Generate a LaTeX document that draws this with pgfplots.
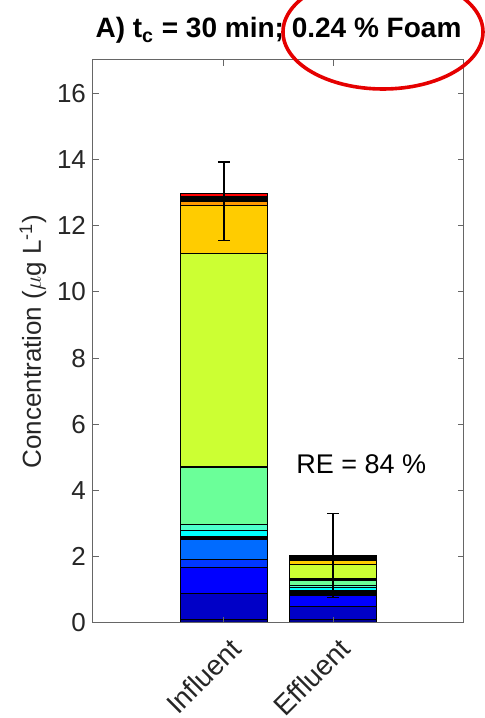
\documentclass[border=0pt]{standalone}
\usepackage{pgfplots}
\pgfplotsset{compat=1.18}
\usepackage{fontspec}
\setmainfont{Liberation Sans}
\definecolor{axgray}{rgb}{0.15,0.15,0.15}
\definecolor{c1}{rgb}{0,0,0.56}
\definecolor{c2}{rgb}{0,0,0.78}
\definecolor{c3}{rgb}{0,0,1}
\definecolor{c4}{rgb}{0,0.22,1}
\definecolor{c5}{rgb}{0,0.42,1}
\definecolor{c7}{rgb}{0,1,1}
\definecolor{c8}{rgb}{0.3,1,0.8}
\definecolor{c9}{rgb}{0.42,1,0.6}
\definecolor{c11}{rgb}{0.8,1,0.2}
\definecolor{c12}{rgb}{1,0.8,0}
\definecolor{c13}{rgb}{1,0.6,0}
\definecolor{c15}{rgb}{1,0,0}
\begin{document}
\begin{tikzpicture}
\pgfplotsset{
  common/.style={
    width=185.5pt, height=281.5pt, scale only axis,
    xmin=-0.2, xmax=3.2, ymin=0, ymax=17,
  }
}
\begin{axis}[common, name=main,
  ybar stacked, bar width=0.8,
  axis on top,
  axis line style={draw=black!60, line width=0.5pt},
  tick style={draw=black!60, line width=0.5pt},
  tick align=inside, major tick length=2.8pt,
  xtick={1,2}, xticklabels={Influent,Effluent},
  ytick={0,2,...,16},
  /pgf/number format/assume math mode=true,
  tick label style={font=\fontsize{13}{15}\selectfont, text=axgray},
  xticklabel style={xshift=2.5pt, yshift=-6.5pt, rotate=45, anchor=north east, inner sep=0pt, font=\fontsize{14}{16}\selectfont},
  ylabel={Concentration ($\mu$g L\textsuperscript{-1})},
  ylabel style={at={(axis description cs:-0.162,0.5)}, anchor=center, font=\fontsize{13}{15}\selectfont, text=axgray},
  title={A) t\textsubscript{c} = 30 min; 0.24 \% Foam},
  title style={at={(axis description cs:0.5,1)}, anchor=base, yshift=5pt, font=\bfseries\fontsize{14}{16}\selectfont},
  every axis plot/.append style={draw=black, line width=0.5pt},
]
\addplot[fill=c1]  coordinates {(1,0.12) (2,0.12)};
\addplot[fill=c2]  coordinates {(1,0.78) (2,0.37)};
\addplot[fill=c3]  coordinates {(1,0.79) (2,0.33)};
\addplot[fill=c4]  coordinates {(1,0.24) (2,0)};
\addplot[fill=c5]  coordinates {(1,0.58) (2,0)};
\addplot[fill=black] coordinates {(1,0.09) (2,0.15)};
\addplot[fill=c7]  coordinates {(1,0.20) (2,0.09)};
\addplot[fill=c8]  coordinates {(1,0.16) (2,0.06)};
\addplot[fill=c9]  coordinates {(1,1.74) (2,0.17)};
\addplot[fill=black] coordinates {(1,0.02) (2,0.05)};
\addplot[fill=c11] coordinates {(1,6.45) (2,0.43)};
\addplot[fill=c12] coordinates {(1,1.45) (2,0.13)};
\addplot[fill=c13] coordinates {(1,0.12) (2,0)};
\addplot[fill=black] coordinates {(1,0.13) (2,0.15)};
\addplot[fill=c15] coordinates {(1,0.10) (2,0)};
\node[anchor=base west, font=\fontsize{13.5}{16}\selectfont, text=black, inner sep=0pt] at (axis cs:1.66,4.51) {RE = 84 \%};
\coordinate (NW) at (rel axis cs:0,1);
\end{axis}
\begin{axis}[common, at={(main.origin)}, anchor=origin, hide axis]
\addplot[draw=none, mark=none, line width=0.5pt,
  error bars/.cd, y dir=both, y explicit,
  error bar style={line width=0.6pt, black},
  error mark options={rotate=90, mark size=3pt, line width=0.6pt, black}]
  coordinates {(1,12.735) +- (0,1.185) (2,2.035) +- (0,1.275)};
\end{axis}
\begin{scope}[shift={(NW)}, xshift=-46.5pt, yshift=30pt, x=0.5pt, y=-0.5pt]
\draw[red!90!black, line width=1.8pt] (383,32) ellipse [x radius=100, y radius=57];
\pgfresetboundingbox
\useasboundingbox (0,0) rectangle (484,718);
\end{scope}
\end{tikzpicture}
\end{document}
